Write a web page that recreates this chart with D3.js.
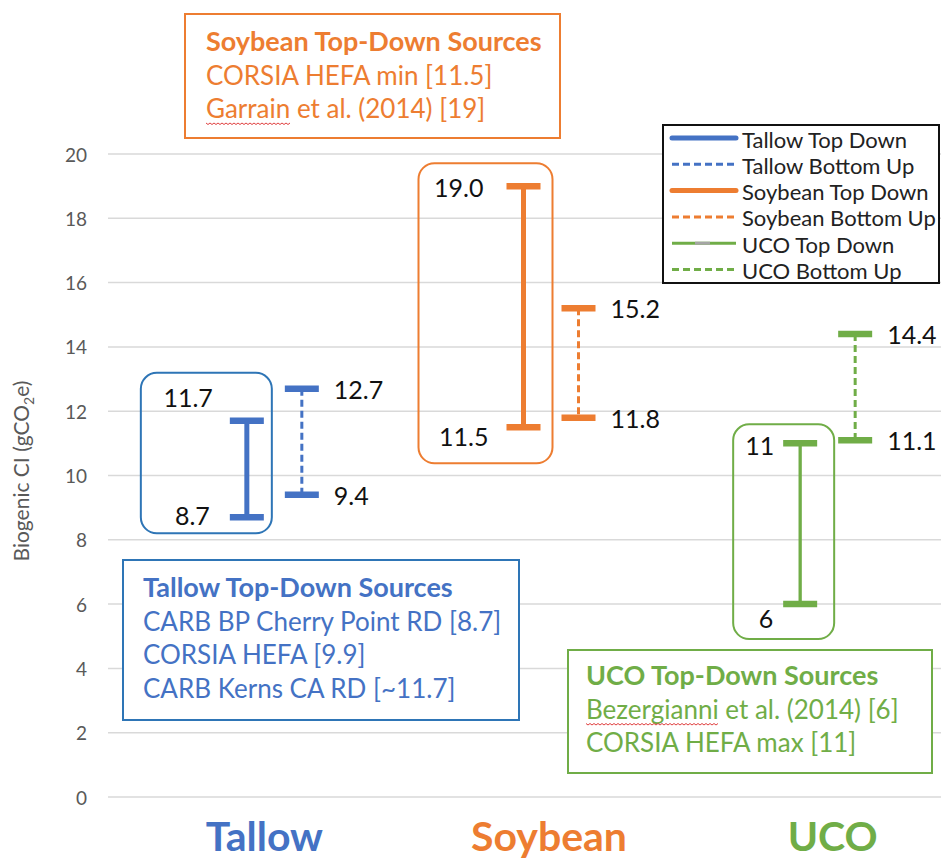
<!DOCTYPE html>
<html>
<head>
<meta charset="utf-8">
<script src="https://cdn.jsdelivr.net/npm/d3@7"></script>
<style>
  body { margin: 0; background: #fff; }
  svg { display: block; font-family: Lato, "Open Sans", sans-serif; }
</style>
</head>
<body>
<div id="container"></div>
<script>
const width = 941;
const height = 861;

// data
const categories = ["Tallow", "Soybean", "UCO"];
const colors = ["#4472c4", "#ed7d31", "#70ad47"];
const boxColors = ["#2e75b6", "#ed7d31", "#70ad47"];
const topDownLow = [8.7, 11.5, 6];
const topDownHigh = [11.7, 19.0, 11];
const bottomUpLow = [9.4, 11.8, 11.1];
const bottomUpHigh = [12.7, 15.2, 14.4];
const topDownLowLabels = ["8.7", "11.5", "6"];
const topDownHighLabels = ["11.7", "19.0", "11"];
const bottomUpLowLabels = ["9.4", "11.8", "11.1"];
const bottomUpHighLabels = ["12.7", "15.2", "14.4"];
const yTicks = [0, 2, 4, 6, 8, 10, 12, 14, 16, 18, 20];
const legendItems = [
  "Tallow Top Down", "Tallow Bottom Up",
  "Soybean Top Down", "Soybean Bottom Up",
  "UCO Top Down", "UCO Bottom Up"
];
const sourceTitles = ["Tallow Top-Down Sources", "Soybean Top-Down Sources", "UCO Top-Down Sources"];
const sourceLines = [
  ["CARB BP Cherry Point RD [8.7]", "CORSIA HEFA [9.9]", "CARB Kerns CA RD [~11.7]"],
  ["CORSIA HEFA min [11.5]", "Garrain et al. (2014) [19]"],
  ["Bezergianni et al. (2014) [6]", "CORSIA HEFA max [11]"]
];
const misspelled = [null, "Garrain", "Bezergianni"];

const svg = d3.select("#container").append("svg")
    .attr("width", width)
    .attr("height", height);

const y = d3.scaleLinear().domain([0, 20]).range([797, 154]);
const x = d3.scaleBand().domain(categories).range([136, 966]);
const cx = i => x(categories[i]) + x.bandwidth() / 2;
const tdX = i => cx(i) - 27.5;
const buX = i => cx(i) + 27.5;

// gridlines + tick labels
svg.append("g").selectAll("line")
  .data(yTicks).enter().append("line")
    .attr("x1", 108).attr("x2", width)
    .attr("y1", d => y(d)).attr("y2", d => y(d))
    .attr("stroke", "#d9d9d9").attr("stroke-width", 1.5);

svg.append("g").selectAll("text")
  .data(yTicks).enter().append("text")
    .attr("x", 87).attr("y", d => y(d))
    .attr("text-anchor", "end").attr("dominant-baseline", "central")
    .attr("font-size", 19).attr("fill", "#595959")
    .text(d => d);

const yTitle = svg.append("text")
    .attr("transform", "translate(29,471) rotate(-90)")
    .attr("text-anchor", "middle")
    .attr("font-size", 21).attr("fill", "#595959");
yTitle.append("tspan").text("Biogenic CI (gCO");
yTitle.append("tspan").attr("font-size", 14).attr("dy", 5).text("2");
yTitle.append("tspan").attr("dy", -5).text("e)");

// rounded boxes around top-down bars
const roundBox = [
  { left: -106, right: 25, top: 48, bottom: 16 },
  { left: -105, right: 29, top: 23, bottom: 36 },
  { left: -67, right: 34, top: 19, bottom: 35 }
];
categories.forEach((c, i) => {
  const b = roundBox[i];
  svg.append("rect")
    .attr("x", tdX(i) + b.left)
    .attr("y", y(topDownHigh[i]) - b.top)
    .attr("width", b.right - b.left)
    .attr("height", y(topDownLow[i]) - y(topDownHigh[i]) + b.top + b.bottom)
    .attr("rx", 16)
    .attr("fill", "none")
    .attr("stroke", boxColors[i])
    .attr("stroke-width", 2);
});

// error bars
const capW = 34;
function errorBar(xPos, lo, hi, color, lineW, dashed) {
  const g = svg.append("g");
  g.append("line")
    .attr("x1", xPos).attr("x2", xPos)
    .attr("y1", y(hi)).attr("y2", y(lo))
    .attr("stroke", color).attr("stroke-width", lineW)
    .attr("stroke-dasharray", dashed ? "7,4" : null);
  [lo, hi].forEach(v => {
    g.append("line")
      .attr("x1", xPos - capW / 2).attr("x2", xPos + capW / 2)
      .attr("y1", y(v)).attr("y2", y(v))
      .attr("stroke", color).attr("stroke-width", 6.5);
  });
}
const tdWidths = [5, 5, 3.3];
categories.forEach((c, i) => {
  errorBar(tdX(i), topDownLow[i], topDownHigh[i], colors[i], tdWidths[i], false);
  errorBar(buX(i), bottomUpLow[i], bottomUpHigh[i], colors[i], 3, true);
});

// value labels
const tdHighOff = [{ dx: -34, dy: -24 }, { dx: -40, dy: 1 }, { dx: -26, dy: 2 }];
const tdLowOff = [{ dx: -37, dy: -2 }, { dx: -35, dy: 9 }, { dx: -27, dy: 14 }];
function valueLabel(xp, yp, txt, anchor) {
  svg.append("text")
    .attr("x", xp).attr("y", yp)
    .attr("text-anchor", anchor).attr("dominant-baseline", "central")
    .attr("font-size", 25).attr("fill", "#111")
    .text(txt);
}
categories.forEach((c, i) => {
  valueLabel(tdX(i) + tdHighOff[i].dx, y(topDownHigh[i]) + tdHighOff[i].dy, topDownHighLabels[i], "end");
  valueLabel(tdX(i) + tdLowOff[i].dx, y(topDownLow[i]) + tdLowOff[i].dy, topDownLowLabels[i], "end");
  valueLabel(buX(i) + 32, y(bottomUpHigh[i]), bottomUpHighLabels[i], "start");
  valueLabel(buX(i) + 32, y(bottomUpLow[i]), bottomUpLowLabels[i], "start");
});

// category labels
const catShift = [-10, -2, 5];
svg.append("g").selectAll("text")
  .data(categories).enter().append("text")
    .attr("x", (d, i) => cx(i) + catShift[i])
    .attr("y", 851)
    .attr("text-anchor", "middle")
    .attr("font-size", 41).attr("font-weight", "bold")
    .attr("fill", (d, i) => colors[i])
    .text(d => d);

// source boxes
const sourceBox = [
  { x: 123, y: 560, w: 396, h: 160, tx: 143, ty: 597 },
  { x: 185, y: 14, w: 375, h: 124, tx: 206, ty: 51 },
  { x: 568, y: 650, w: 364, h: 123, tx: 586, ty: 685 }
];
const lineStep = 33.5;
categories.forEach((c, i) => {
  const b = sourceBox[i];
  svg.append("rect")
    .attr("x", b.x).attr("y", b.y).attr("width", b.w).attr("height", b.h)
    .attr("fill", "#fff").attr("stroke", boxColors[i]).attr("stroke-width", 2);
  svg.append("text")
    .attr("x", b.tx).attr("y", b.ty)
    .attr("font-size", 27).attr("font-weight", "bold").attr("fill", colors[i])
    .text(sourceTitles[i]);
  sourceLines[i].forEach((t, j) => {
    const ty = b.ty + lineStep * (j + 1);
    const txt = svg.append("text")
      .attr("x", b.tx).attr("y", ty)
      .attr("font-size", 26).attr("fill", colors[i])
      .text(t);
    if (misspelled[i] && t.startsWith(misspelled[i])) {
      const w = txt.node().getSubStringLength(0, misspelled[i].length);
      const pts = d3.range(0, w, 2).map((d, k) => [b.tx + d, ty + 5 + (k % 2 ? 1.5 : 0)]);
      svg.append("path")
        .attr("d", d3.line()(pts))
        .attr("fill", "none").attr("stroke", "#e04040").attr("stroke-width", 1);
    }
  });
});

// legend
const legend = svg.append("g");
legend.append("rect")
  .attr("x", 663).attr("y", 125).attr("width", 276).attr("height", 158)
  .attr("fill", "#fff").attr("stroke", "#111").attr("stroke-width", 2);
legendItems.forEach((name, k) => {
  const ci = Math.floor(k / 2);
  const dashed = k % 2 === 1;
  const ly = 138 + k * 26.3;
  const thick = !dashed && ci < 2;
  legend.append("line")
    .attr("x1", 672).attr("x2", 736).attr("y1", ly).attr("y2", ly)
    .attr("stroke", colors[ci])
    .attr("stroke-width", thick ? 5 : 3)
    .attr("stroke-linecap", thick ? "round" : "butt")
    .attr("stroke-dasharray", dashed ? "7,4" : null);
  if (ci === 2 && !dashed) {
    legend.append("line")
      .attr("x1", 695).attr("x2", 710).attr("y1", ly).attr("y2", ly)
      .attr("stroke", "#a5a5a5").attr("stroke-width", 3);
  }
  legend.append("text")
    .attr("x", 742).attr("y", ly + 1)
    .attr("dominant-baseline", "central")
    .attr("font-size", 22).attr("fill", "#222")
    .text(name);
});
</script>
</body>
</html>
